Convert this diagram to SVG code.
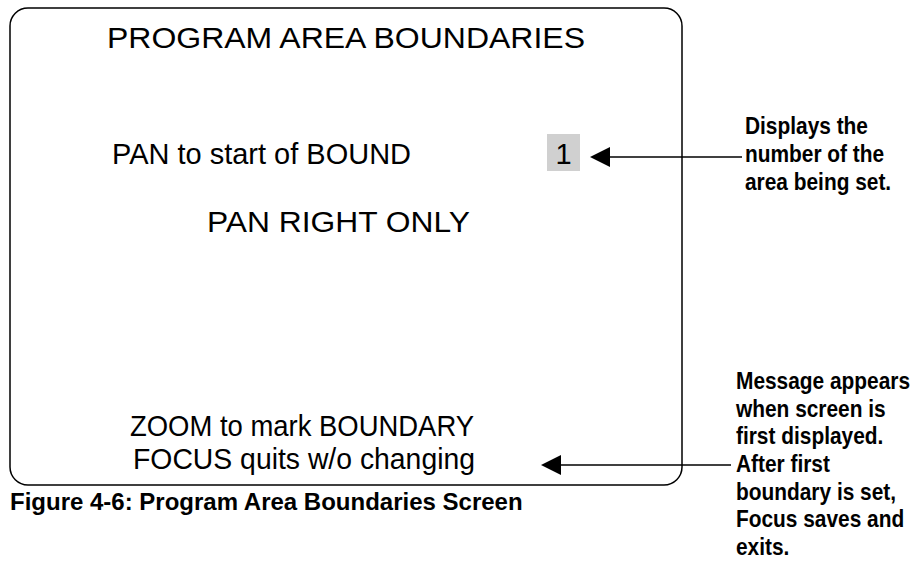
<svg xmlns="http://www.w3.org/2000/svg" width="916" height="567" viewBox="0 0 916 567">
<style>
.scr{font-family:"Liberation Sans",Arial,sans-serif;font-size:29px;fill:#000}
.lbl{font-family:"Liberation Sans Narrow","Arial Narrow","Liberation Sans",Arial,sans-serif;font-weight:bold;font-size:24px;fill:#000}
.ln{stroke:#000;stroke-width:1.5;fill:none}
.ah{fill:#000;stroke:none}
</style>
<rect width="916" height="567" fill="#fff"/>
<g id="screen">
<rect x="10" y="8" width="672" height="477" rx="18" ry="18" class="ln"/>
<text class="scr" x="107" y="48" textLength="478" lengthAdjust="spacingAndGlyphs">PROGRAM AREA BOUNDARIES</text>
<text class="scr" x="112" y="164" textLength="299" lengthAdjust="spacingAndGlyphs">PAN to start of BOUND</text>
<text class="scr" x="207" y="232" textLength="263" lengthAdjust="spacingAndGlyphs">PAN RIGHT ONLY</text>
<text class="scr" x="130" y="436" textLength="344" lengthAdjust="spacingAndGlyphs">ZOOM to mark BOUNDARY</text>
<text class="scr" x="133" y="469" textLength="342" lengthAdjust="spacingAndGlyphs">FOCUS quits w/o changing</text>
</g>
<g id="area-number">
<rect x="547" y="134" width="33" height="37" fill="#d0d0d0"/>
<text class="scr" x="563.5" y="164" text-anchor="middle">1</text>
</g>
<g id="label-number" transform="translate(745,0) scale(0.87,1)">
<text class="lbl" x="0" y="134">Displays the</text>
<text class="lbl" x="0" y="162">number of the</text>
<text class="lbl" x="0" y="190">area being set.</text>
</g>
<g id="label-message" transform="translate(736,0) scale(0.87,1)">
<text class="lbl" x="0" y="389">Message appears</text>
<text class="lbl" x="0" y="417">when screen is</text>
<text class="lbl" x="0" y="444">first displayed.</text>
<text class="lbl" x="0" y="472">After first</text>
<text class="lbl" x="0" y="500">boundary is set,</text>
<text class="lbl" x="0" y="527">Focus saves and</text>
<text class="lbl" x="0" y="555">exits.</text>
</g>
<g id="caption">
<text class="lbl" x="10" y="510">Figure 4-6: Program Area Boundaries Screen</text>
</g>
<g id="connectors">
<line x1="742" y1="157" x2="606" y2="157" class="ln"/>
<polygon class="ah" points="590,157 610,147 610,167"/>
<line x1="731" y1="465" x2="557" y2="465" class="ln"/>
<polygon class="ah" points="541,465 561,455 561,475"/>
</g>
</svg>
